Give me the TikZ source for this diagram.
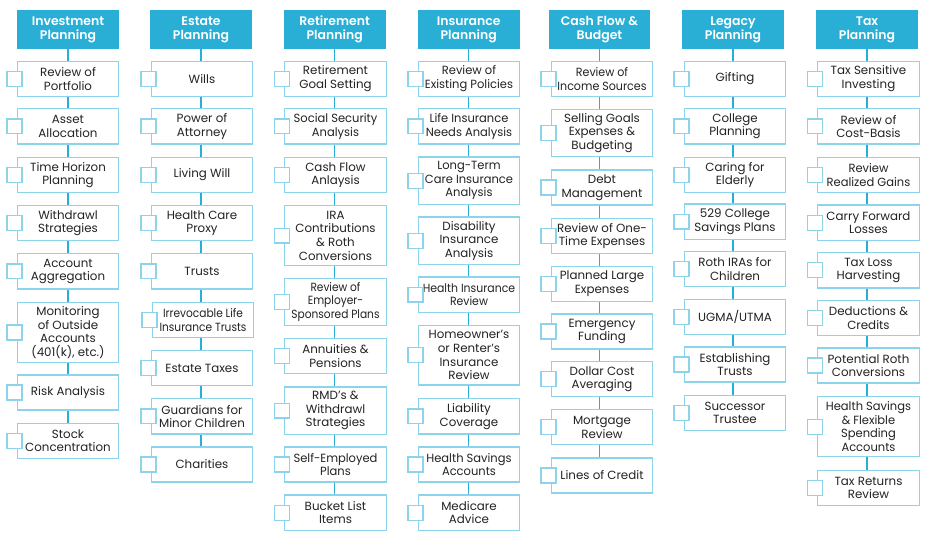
\documentclass[tikz,border=0pt]{standalone}
\usepackage{fontspec}
\setmainfont{Poppins}
\newfontfamily\hdrfont{Poppins SemiBold}
\newfontfamily\cnda{Poppins}[FakeStretch=0.97]
\newfontfamily\cndb{Poppins}[FakeStretch=0.935]
\newfontfamily\cndc{Poppins}[FakeStretch=0.92]
\newfontfamily\cndd{Poppins}[FakeStretch=0.895]
\newcommand\fsz[1]{\fontsize{#1}{13.7}\selectfont}
\definecolor{hdrblue}{RGB}{41,174,214}
\definecolor{lightblue}{RGB}{140,212,235}
\definecolor{txt}{RGB}{35,35,35}
\tikzset{
  hdr/.style={rectangle, fill=hdrblue, minimum width=102, minimum height=38.5, inner sep=1pt,
    align=center, text=white, font=\hdrfont\fontsize{12.5}{14}\selectfont},
  box/.style={rectangle, draw=lightblue, line width=1.3pt, fill=white, minimum width=102,
    inner sep=1pt, align=center, text=txt, font=\fsz{11.9}},
  ca/.style={font=\cnda\fsz{11.9}},
  cb/.style={font=\cndb\fsz{11.9}},
  cc/.style={font=\cndc\fsz{11.9}},
  cd/.style={font=\cndd\fsz{11.9}},
  chk/.style={rectangle, draw=lightblue, line width=1.3pt, fill=white, minimum size=15, inner sep=0pt},
  conn/.style={draw=hdrblue, line width=1.2pt},
  h2/.style={minimum height=35.2},
  h3/.style={minimum height=47.6},
  h4/.style={minimum height=60}
}
\begin{document}
\begin{tikzpicture}[x=1bp,y=-1.0357bp]
\useasboundingbox (0bp,0bp) rectangle (929bp,-542bp);
% headers
\node[hdr] (A) at (68,28.5) {Investment\\Planning};
\node[hdr] (B) at (201,28.5) {Estate\\Planning};
\node[hdr] (C) at (334.7,28.5) {Retirement\\Planning};
\node[hdr] (D) at (468.7,28.5) {Insurance\\Planning};
\node[hdr] (E) at (599.5,28.5) {Cash Flow \&\\Budget};
\node[hdr] (F) at (733,28.5) {Legacy\\Planning};
\node[hdr] (G) at (867,28.5) {Tax\\Planning};
% column A
\node[box,h2] (a1) at (68,76) {Review of\\Portfolio};
\node[box,h2] (a2) at (68,122) {Asset\\Allocation};
\node[box,h2] (a3) at (68,169) {Time Horizon\\Planning};
\node[box,h2] (a4) at (68,215.5) {Withdrawl\\Strategies};
\node[box,h2] (a5) at (68,262) {Account\\Aggregation};
\node[box,h4] (a6) at (68,321) {Monitoring\\of Outside\\Accounts\\(401(k), etc.)};
\node[box,h2] (a7) at (68,379) {Risk Analysis};
\node[box,h2] (a8) at (68,425.5) {Stock\\Concentration};
% column B
\node[box,h2] (b1) at (202,76) {Wills};
\node[box,h2] (b2) at (202,122) {Power of\\Attorney};
\node[box,h2] (b3) at (202,169) {Living Will};
\node[box,h2] (b4) at (202,215.5) {Health Care\\Proxy};
\node[box,h2] (b5) at (202,262) {Trusts};
\node[box,h2,cd] (b6) at (203,309) {Irrevocable Life\\Insurance Trusts};
\node[box,h2] (b7) at (202,355.5) {Estate Taxes};
\node[box,h2] (b8) at (202,402) {Guardians for\\Minor Children};
\node[box,h2] (b9) at (202,448.5) {Charities};
% column C
\node[box,h2] (c1) at (335.5,76) {Retirement\\Goal Setting};
\node[box,h2,ca] (c2) at (335.5,122) {Social Security\\Analysis};
\node[box,h2] (c3) at (335.5,169) {Cash Flow\\Anlaysis};
\node[box,h4] (c4) at (335.5,227.5) {IRA\\Contributions\\\& Roth\\Conversions};
\node[box,h3,cd] (c5) at (335.5,291.5) {Review of\\Employer-\\Sponsored Plans};
\node[box,h2] (c6) at (335.5,344) {Annuities \&\\Pensions};
\node[box,h3] (c7) at (335.5,396.5) {RMD’s \&\\Withdrawl\\Strategies};
\node[box,h2,ca] (c8) at (335.5,448.5) {Self-Employed\\Plans};
\node[box,h2] (c9) at (335.5,495) {Bucket List\\Items};
% column D
\node[box,h2,ca] (d1) at (469,76) {Review of\\Existing Policies};
\node[box,h2,ca] (d2) at (469,122) {Life Insurance\\Needs Analysis};
\node[box,h3,ca] (d3) at (469,174.5) {Long-Term\\Care Insurance\\Analysis};
\node[box,h3] (d4) at (469,232.5) {Disability\\Insurance\\Analysis};
\node[box,h2,cc] (d5) at (469,284.5) {Health Insurance\\Review};
\node[box,h4] (d6) at (469,343) {Homeowner’s\\or Renter’s\\Insurance\\Review};
\node[box,h2] (d7) at (469,402) {Liability\\Coverage};
\node[box,h2,ca] (d8) at (469,448.5) {Health Savings\\Accounts};
\node[box,h2] (d9) at (469,495) {Medicare\\Advice};
% column E
\node[box,h2,cb] (e1) at (602,76) {Review of\\Income Sources};
\node[box,h3] (e2) at (602,128.5) {Selling Goals\\Expenses \&\\Budgeting};
\node[box,h2] (e3) at (602,181) {Debt\\Management};
\node[box,h2] (e4) at (602,228) {Review of One-\\Time Expenses};
\node[box,h2] (e5) at (602,274) {Planned Large\\Expenses};
\node[box,h2] (e6) at (602,320) {Emergency\\Funding};
\node[box,h2] (e7) at (602,366) {Dollar Cost\\Averaging};
\node[box,h2] (e8) at (602,412.5) {Mortgage\\Review};
\node[box,h2] (e9) at (602,459) {Lines of Credit};
% column F
\node[box,h2] (f1) at (735,76) {Gifting};
\node[box,h2] (f2) at (735,122) {College\\Planning};
\node[box,h2] (f3) at (735,169) {Caring for\\Elderly};
\node[box,h2] (f4) at (735,214) {529 College\\Savings Plans};
\node[box,h2] (f5) at (735,260) {Roth IRAs for\\Children};
\node[box,h2] (f6) at (735,306) {UGMA/UTMA};
\node[box,h2] (f7) at (735,352) {Establishing\\Trusts};
\node[box,h2] (f8) at (735,398.5) {Successor\\Trustee};
% column G
\node[box,h2] (g1) at (868.5,76) {Tax Sensitive\\Investing};
\node[box,h2] (g2) at (868.5,122) {Review of\\Cost-Basis};
\node[box,h2,ca] (g3) at (868.5,169) {Review\\Realized Gains};
\node[box,h2] (g4) at (868.5,215) {Carry Forward\\Losses};
\node[box,h2] (g5) at (868.5,261) {Tax Loss\\Harvesting};
\node[box,h2] (g6) at (868.5,307) {Deductions \&\\Credits};
\node[box,h2] (g7) at (868.5,353) {Potential Roth\\Conversions};
\node[box,h4,ca] (g8) at (868.5,412) {Health Savings\\\& Flexible\\Spending\\Accounts};
\node[box,h2] (g9) at (868.5,471) {Tax Returns\\Review};
% connectors and checkboxes
\foreach \h/\p/\n in {A/a/8,B/b/9,C/c/9,D/d/9,E/e/9,F/f/8,G/g/9}{
  \draw[conn] (\h.south) -- (\h.south |- \p1.north);
  \pgfmathtruncatemacro\m{\n-1}
  \foreach \i in {1,...,\m}{
    \pgfmathtruncatemacro\j{\i+1}
    \draw[conn] (\h.south |- \p\i.south) -- (\h.south |- \p\j.north);
  }
  \foreach \i in {1,...,\n}{
    \node[chk] (\p\i-k) at ([xshift=-2]\p\i.west) {};
  }
}
\end{tikzpicture}
\end{document}
